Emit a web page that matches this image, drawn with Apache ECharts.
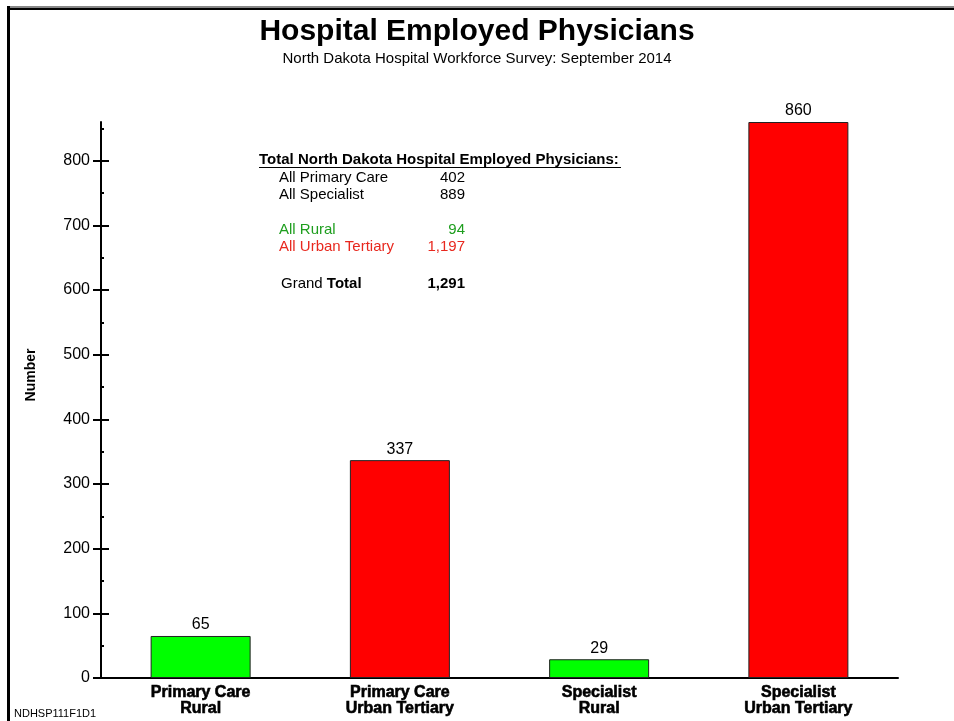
<!DOCTYPE html>
<html><head><meta charset="utf-8">
<script src="https://cdn.jsdelivr.net/npm/echarts@6/dist/echarts.min.js"></script>
<style>html,body{margin:0;padding:0;background:#fff}#c{width:954px;height:721px}</style>
</head><body><div id="c"></div>
<script>
const categories = ['Primary Care\nRural', 'Primary Care\nUrban Tertiary', 'Specialist\nRural', 'Specialist\nUrban Tertiary'];
const values = [65, 337, 29, 860];
const regions = ['Rural', 'Urban', 'Rural', 'Urban'];
const yTicks = [0, 100, 200, 300, 400, 500, 600, 700, 800];
const summaryTitle = 'Total North Dakota Hospital Employed Physicians:';
const summaryLabels = ['All Primary Care', 'All Specialist', 'All Rural', 'All Urban Tertiary'];
const summaryValues = ['402', '889', '94', '1,197'];
const grandTotal = '1,291';

const FONT = '"Liberation Sans", Arial, Helvetica, sans-serif';
const regionColor = { Rural: '#00ff00', Urban: '#ff0000' };
const textColor = ['#000', '#000', '#1e9e1e', '#e8281e'];

const chart = echarts.init(document.getElementById('c'));
const L = 101, R = 954 - 898, B = 721 - 678, T = 122;
const H = 678 - T;
const AMAX = 860;
const topFor = v => 678 - H * v / AMAX;

const yMax = yTicks[yTicks.length - 1];

const rowsY = [178, 195, 230, 247];
const graphics = [
  { type: 'rect', shape: { x: 7, y: 6, width: 960, height: 2 }, style: { fill: '#888' } },
  { type: 'rect', shape: { x: 7, y: 8, width: 960, height: 2 }, style: { fill: '#000' } },
  { type: 'rect', shape: { x: 7, y: 6, width: 3, height: 730 }, style: { fill: '#000' } },
  { type: 'text', x: 31, y: 375, rotation: Math.PI / 2, style: { text: 'Number', font: 'bold 14px ' + FONT, fill: '#000', align: 'center', verticalAlign: 'middle' } },
  { type: 'text', x: 14, y: 714, style: { text: 'NDHSP111F1D1', font: '11px ' + FONT, fill: '#000', verticalAlign: 'middle' } },
  { type: 'text', x: 259, y: 160, style: { text: summaryTitle, font: 'bold 15px ' + FONT, fill: '#000', verticalAlign: 'middle' } },
  { type: 'line', shape: { x1: 259, y1: 167.5, x2: 621, y2: 167.5 }, style: { stroke: '#000', lineWidth: 1 } },
  { type: 'text', x: 281, y: 284, style: { text: '{n|Grand }{b|Total}', rich: { n: { font: '15px ' + FONT, fill: '#000' }, b: { font: 'bold 15px ' + FONT, fill: '#000' } }, verticalAlign: 'middle' } },
  { type: 'text', x: 465, y: 284, style: { text: grandTotal, font: 'bold 15px ' + FONT, fill: '#000', align: 'right', verticalAlign: 'middle' } }
];
summaryLabels.forEach((s, i) => {
  graphics.push({ type: 'text', x: 279, y: rowsY[i], style: { text: s, font: '15px ' + FONT, fill: textColor[i], verticalAlign: 'middle' } });
  graphics.push({ type: 'text', x: 465, y: rowsY[i], style: { text: summaryValues[i], font: '15px ' + FONT, fill: textColor[i], align: 'right', verticalAlign: 'middle' } });
});

const hidden = { show: false };
chart.setOption({
  animation: false,
  backgroundColor: '#fff',
  title: {
    text: 'Hospital Employed Physicians',
    subtext: 'North Dakota Hospital Workforce Survey: September 2014',
    left: 472, textAlign: 'center', top: 12, itemGap: 4,
    textStyle: { fontFamily: FONT, fontWeight: 'bold', fontSize: 30, color: '#000' },
    subtextStyle: { fontFamily: FONT, fontSize: 15, color: '#000' }
  },
  grid: [
    { left: L, right: R, top: T, bottom: B },
    { left: L, right: R, top: topFor(yMax), bottom: B },
    { left: L, right: R, top: topFor(850), bottom: B }
  ],
  xAxis: [
    { type: 'category', gridIndex: 0, data: categories,
      axisLine: { lineStyle: { color: '#000', width: 2 } }, axisTick: hidden,
      axisLabel: { margin: 7, fontFamily: FONT, fontWeight: 'bold', fontSize: 16, lineHeight: 16, color: '#000', textBorderColor: '#000', textBorderWidth: 0.6 } },
    { type: 'category', gridIndex: 1, data: categories, show: false },
    { type: 'category', gridIndex: 2, data: categories, show: false }
  ],
  yAxis: [
    { type: 'value', gridIndex: 0, position: 'left', min: 0, max: AMAX, axisLine: { show: true, lineStyle: { color: '#000', width: 2 } }, axisTick: hidden, axisLabel: hidden, splitLine: hidden },
    { type: 'value', gridIndex: 1, position: 'left', min: 0, max: yMax, interval: 100, axisLine: hidden, splitLine: hidden,
      axisTick: { show: true, length: 8, lineStyle: { color: '#000', width: 2 } },
      axisLabel: { margin: 11, fontFamily: FONT, fontSize: 16, color: '#000', formatter: v => yTicks.includes(v) ? String(v) : '' } },
    { type: 'value', gridIndex: 1, position: 'left', offset: 0, min: 0, max: yMax, interval: 100, axisLine: hidden, splitLine: hidden, axisLabel: hidden,
      axisTick: { show: true, inside: true, length: 8, lineStyle: { color: '#000', width: 2 } } },
    { type: 'value', gridIndex: 2, position: 'left', min: 0, max: 850, interval: 50, axisLine: hidden, splitLine: hidden, axisLabel: hidden,
      axisTick: { show: true, inside: true, length: 3, lineStyle: { color: '#000', width: 2 } } }
  ],
  series: [{
    type: 'bar', xAxisIndex: 0, yAxisIndex: 0, barWidth: 100,
    data: values.map((v, i) => ({ value: v, itemStyle: { color: regionColor[regions[i]] } })),
    itemStyle: { borderColor: '#222', borderWidth: 1 },
    label: { show: true, position: 'top', distance: 3, fontFamily: FONT, fontSize: 16, color: '#000' }
  }],
  graphic: graphics
});
</script></body></html>
